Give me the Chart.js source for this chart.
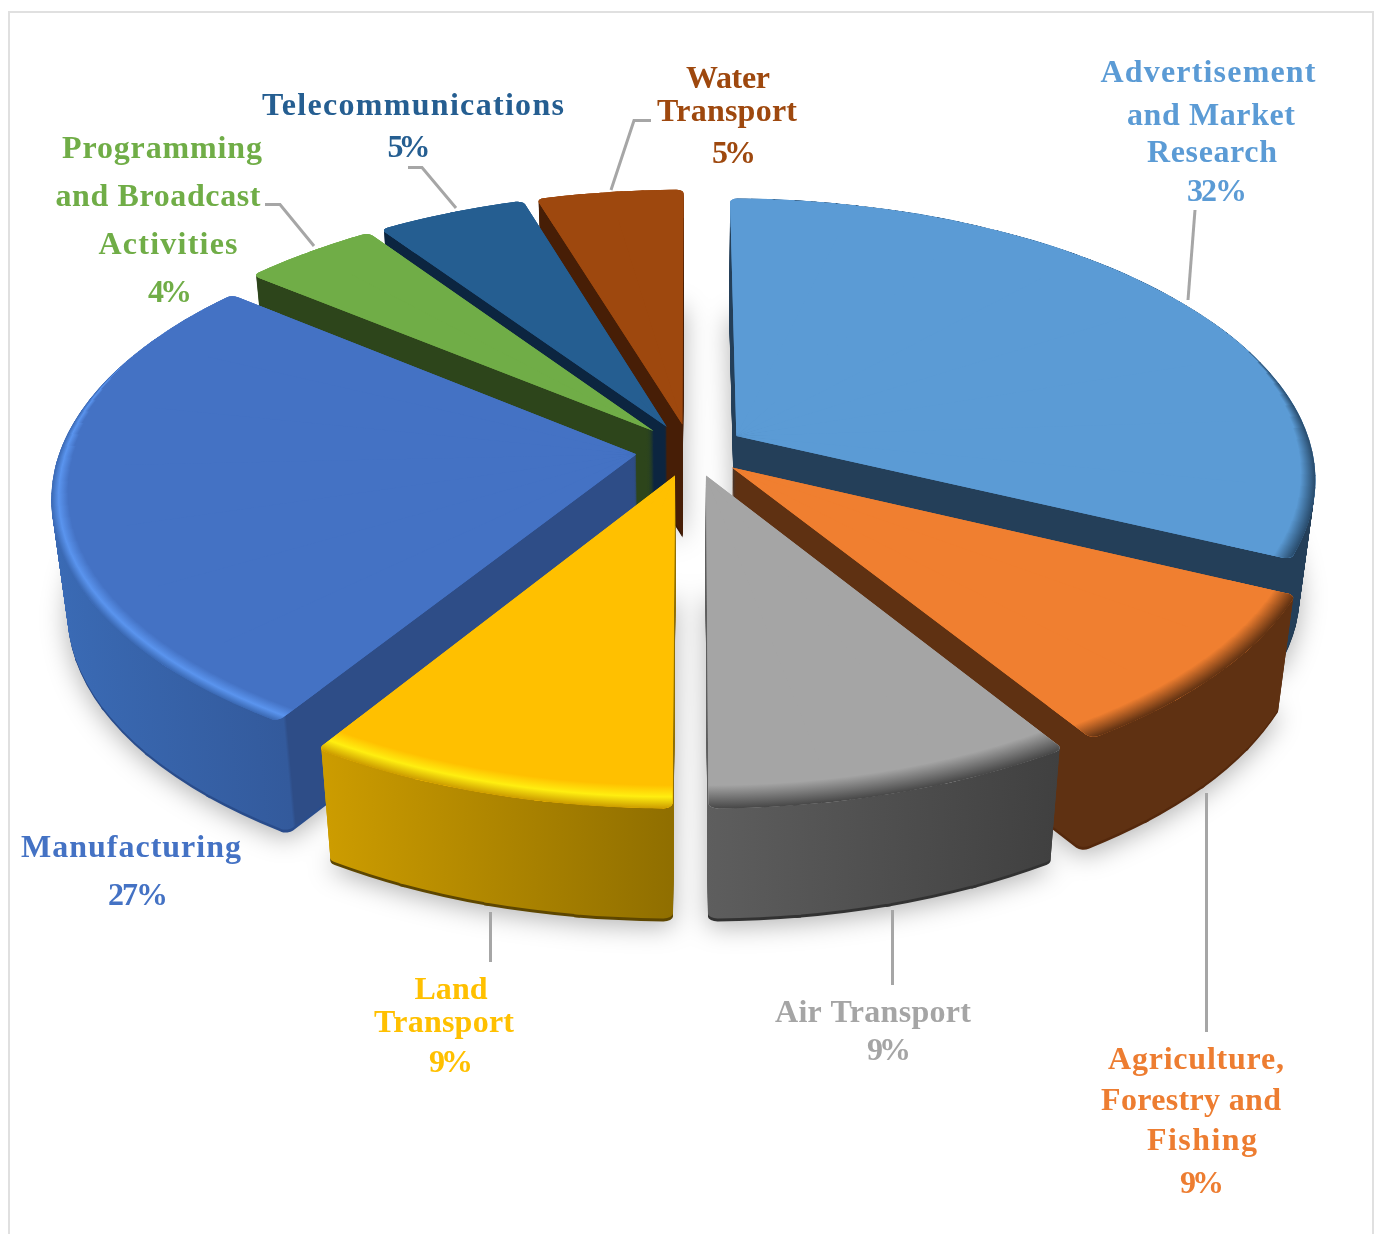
<!DOCTYPE html>
<html>
<head>
<meta charset="utf-8">
<style>
html,body{margin:0;padding:0;background:#fff;width:1378px;height:1234px;overflow:hidden}
#frame{position:absolute;left:8px;top:11px;width:1366px;height:1260px;border:2px solid #e0e0e0;box-sizing:border-box}
canvas{position:absolute;left:0;top:0}
</style>
<script src="https://cdn.jsdelivr.net/npm/chart.js@4"></script>
</head>
<body>
<div id="frame"></div>
<canvas id="c" width="1378" height="1234"></canvas>
<script>
// ---- data ----
const categories = ['Advertisement and Market Research','Agriculture, Forestry and Fishing','Air Transport','Land Transport','Manufacturing','Programming and Broadcast Activities','Telecommunications','Water Transport'];
const shares = [32, 9, 9, 9, 26.8, 4.49, 4.9, 4.81];
const labelLines = [
  ['Advertisement','and Market','Research'],
  ['Agriculture,','Forestry and','Fishing'],
  ['Air Transport'],
  ['Land','Transport'],
  ['Manufacturing'],
  ['Programming','and Broadcast','Activities'],
  ['Telecommunications'],
  ['Water','Transport']
];
// ---- styles ----
const topColors = ['#5B9BD5','#ED7D31','#A5A5A5','#FFC000','#4472C4','#70AD47','#255E91','#9E480E'];
const faceColors = ['#5B9BD5','#F07F30','#A5A5A5','#FFC000','#4472C4','#70AD47','#255E91','#9E480E'];
const rimStops = [
  [[.955,'#5B9BD5'],[1,'#284a6a']],
  [[.945,'#F07F30'],[1,'#5f3112']],
  [[.93,'#A5A5A5'],[1,'#474747']],
  [[.93,'#FFC000'],[.965,'#FFEE10'],[1,'#cc9c00']],
  [[.95,'#4472C4'],[.978,'#5A94EE'],[1,'#3a68b2']],
  [[.99,'#70AD47'],[1,'#70AD47']],
  [[.99,'#255E91'],[1,'#255E91']],
  [[.99,'#9E480E'],[1,'#9E480E']]
];
const wallStops = [
  [[0,'#243f59'],[1,'#243f59']],
  [[0,'#5f3112'],[1,'#5f3112']],
  [[0,'#5e5e5e'],[1,'#404040']],
  [[0,'#cc9c00'],[1,'#8f6e00']],
  [[0,'#3a6ab4'],[.39,'#335a9c'],[.395,'#2e4d87'],[1,'#2e4d87']],
  [[0,'#2d451b'],[1,'#2d451b']],
  [[0,'#0c2540'],[1,'#0c2540']],
  [[0,'#471e06'],[1,'#471e06']]
];
const wallRange = [[733,1316],[732,1295],[706,1062],[322,676],[55,640],[257,660],[390,670],[540,685]];
const wallFoot = ['#1f3850','#55290d','#333333','#5e4700','#2a4d8c','#26391a','#0a1f36','#3a1805'];
// ---- layout ----
const drawOrder = [7,6,5,0,4,1,2,3];
const labelX = [[1208,1211,1212,1217],[1196,1191,1202,1202],[873,889],[451,444,451],[131,138],[162,158,168,170],[413,409],[728,727,734]];
const labelY = [[82,125,162,201],[1069,1110,1150,1193],[1022,1060],[999,1032,1072],[857,905],[158,206,254,302],[115,157],[88,121,163]];
const labelW = [[215,168,130,60],[176,180,110,44],[196,44],[73,140,44],[220,60],[200,205,139,44],[302,43],[84,140,44]];
const leaders = [
  [[1195,210],[1188,300]],
  [[1206.5,793],[1206.5,1032]],
  [[892.5,910],[892.5,985]],
  [[490.5,912],[490.5,962]],
  [],
  [[265,204.5],[280,204.5],[314,246]],
  [[408,167.5],[422,167.5],[456,208]],
  [[651,120.5],[634,120.5],[611,190]]
];
const view = {cx:690.5, cy:450, sx:576, sy:276, persp:.1465, perspX:.15, perspX2:.01, explode:.095, depth:113, taper:.025};
const DEG = Math.PI/180, cornerRadius = 9;

function project(x,y){
  const w = 1 - view.persp*y, wx = 1 - view.perspX*y + view.perspX2*y*y;
  return [view.cx + view.sx*x/wx, view.cy + view.sy*y/w];
}
// affine mapping from the pie's plane to the screen, exact at the apex and at two rim points
function wedgeAffine(arc,t0,t1){
  const R = arc.outerRadius, mid=(arc.startAngle+arc.endAngle)/2;
  const ax = view.explode*Math.cos(mid), ay = view.explode*Math.sin(mid);
  const s0=project(ax,ay);
  const u0=Math.cos(t0),v0=Math.sin(t0),u1=Math.cos(t1),v1=Math.sin(t1);
  const p0=project(ax+u0,ay+v0),p1=project(ax+u1,ay+v1);
  const X0=p0[0]-s0[0],Y0=p0[1]-s0[1],X1=p1[0]-s0[0],Y1=p1[1]-s0[1];
  const det=u0*v1-u1*v0;
  const A=(X0*v1-X1*v0)/det,B=(u0*X1-u1*X0)/det,C=(Y0*v1-Y1*v0)/det,D=(u0*Y1-u1*Y0)/det;
  const a=A/R,c=B/R,b=C/R,d=D/R;
  return {a,b,c,d,e:s0[0]-a*arc.x-c*arc.y,f:s0[1]-b*arc.x-d*arc.y};
}
function wedges(arc,stepDeg,overlapDeg,innerShare){
  const span=arc.endAngle-arc.startAngle, n=Math.max(1,Math.ceil(span/(stepDeg*DEG))), out=[];
  for(let k=0;k<n;k++){
    const t0=arc.startAngle+span*k/n, t1=arc.startAngle+span*(k+1)/n;
    const end=k<n-1?t1+overlapDeg*DEG:t1;
    const sub=Object.create(arc);
    sub.startAngle=t0;sub.endAngle=end;sub.circumference=end-t0;
    if(innerShare) sub.innerRadius=arc.outerRadius*innerShare;
    sub.corner={outerStart:k===0?cornerRadius:0,outerEnd:k===n-1?cornerRadius:0,innerStart:0,innerEnd:0};
    sub.mat=wedgeAffine(arc,t0,t1);sub.midT=(t0+t1)/2;
    out.push(sub);
  }
  return out;
}
function setLayer(ctx,m,dy){
  const k=1-view.taper*dy/view.depth;
  ctx.setTransform(m.a*k,m.b,m.c*k,m.d,view.cx+(m.e-view.cx)*k,m.f+dy);
}
function paint(sub,ctx,fill){
  sub.options=Object.assign({},Object.getPrototypeOf(sub).options,{backgroundColor:fill,borderRadius:sub.corner});
  sub.draw(ctx);
}
function wallFill(ctx,m,i){
  const q=m.a*m.a+m.c*m.c, r=wallRange[i];
  const p0=[m.a*(r[0]-m.e)/q,m.c*(r[0]-m.e)/q], p1=[m.a*(r[1]-m.e)/q,m.c*(r[1]-m.e)/q];
  const g=ctx.createLinearGradient(p0[0],p0[1],p1[0],p1[1]);
  wallStops[i].forEach(s=>g.addColorStop(s[0],s[1]));
  return g;
}
function rimFactor(t){
  const s=Math.sin(t);
  return s>=0 ? .5+.5*s : Math.max(.01,.5*(s+.35)/.35);
}
const pie3d={
  id:'pie3d',
  beforeDatasetsDraw(chart){
    const ctx=chart.ctx, arcs=chart.getDatasetMeta(0).data;
    // soft shadow under the whole pie
    const off=document.createElement('canvas');off.width=chart.width;off.height=chart.height;
    const octx=off.getContext('2d');
    drawOrder.forEach(i=>{
      wedges(arcs[i],10,.5).forEach(sub=>{setLayer(octx,sub.mat,view.depth-2);paint(sub,octx,'#000');});
    });
    ctx.save();
    ctx.filter='blur(13px)';ctx.globalAlpha=.3;
    ctx.drawImage(off,0,7);
    ctx.restore();
    drawOrder.forEach(i=>{
      const arc=arcs[i];
      ctx.save();
      const subs=wedges(arc,10,.5);
      const fills=subs.map(s=>wallFill(ctx,s.mat,i));
      for(let d=view.depth;d>0;d-=1){
        subs.forEach((sub,k)=>{
          setLayer(ctx,sub.mat,d);
          paint(sub,ctx,d>=view.depth-2?wallFoot[i]:fills[k]);
        });
      }
      // flat face, painted twice so that wedge tips leave no seams at the apex
      const base=wedges(arc,15,1);
      for(let pass=0;pass<2;pass++){
        base.forEach(sub=>{setLayer(ctx,sub.mat,0);paint(sub,ctx,faceColors[i]);});
      }
      // bevelled rim
      wedges(arc,2.5,.3,.88).forEach(sub=>{
        setLayer(ctx,sub.mat,0);
        const f=rimFactor(sub.midT);
        const g=ctx.createRadialGradient(arc.x,arc.y,0,arc.x,arc.y,arc.outerRadius);
        g.addColorStop(0,faceColors[i]);
        rimStops[i].forEach(s=>g.addColorStop(1-(1-s[0])*f,s[1]));
        paint(sub,ctx,g);
      });
      ctx.restore();
    });
    ctx.setTransform(1,0,0,1,0,0);
    // leader lines
    ctx.save();
    ctx.strokeStyle='#A6A6A6';ctx.lineWidth=3;ctx.lineJoin='miter';
    leaders.forEach(l=>{
      if(!l.length)return;
      ctx.beginPath();
      l.forEach((p,k)=>k?ctx.lineTo(p[0],p[1]):ctx.moveTo(p[0],p[1]));
      ctx.stroke();
    });
    // labels
    ctx.font='bold 32px "Liberation Serif"';
    ctx.textBaseline='alphabetic';ctx.textAlign='left';
    labelLines.forEach((lines,i)=>{
      ctx.fillStyle=topColors[i];
      lines.concat([Math.round(shares[i])+'%']).forEach((t,k)=>{
        ctx.letterSpacing='0px';
        const w=ctx.measureText(t).width, W=labelW[i][k];
        ctx.letterSpacing=((W-w)/Math.max(1,t.length-1)).toFixed(2)+'px';
        ctx.fillText(t,labelX[i][k]-W/2,labelY[i][k]);
      });
    });
    ctx.restore();
    return false;
  }
};
new Chart(document.getElementById('c'),{
  type:'pie',
  data:{labels:categories,datasets:[{data:shares,backgroundColor:topColors,borderWidth:0}]},
  options:{responsive:false,animation:false,
    layout:{padding:0},
    plugins:{legend:{display:false},tooltip:{enabled:false},title:{display:false}}},
  plugins:[pie3d]
});
</script>
</body>
</html>
